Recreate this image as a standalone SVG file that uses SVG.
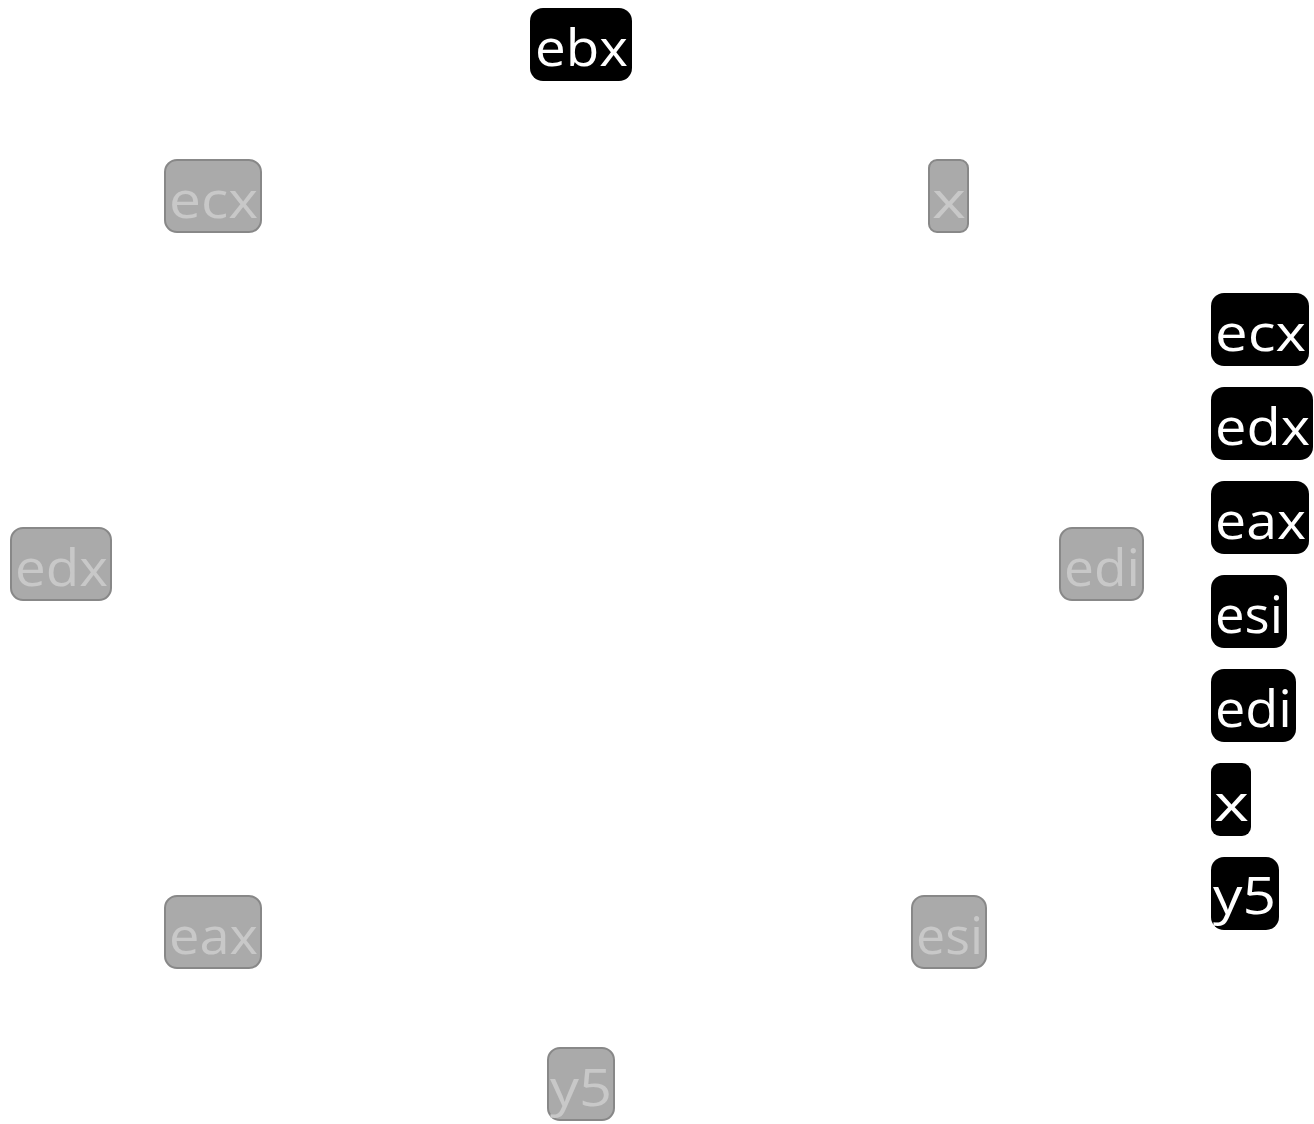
<svg xmlns="http://www.w3.org/2000/svg" width="1314" height="1124" viewBox="0 0 1314 1124">
<style>
.g rect{fill:#aaaaaa;stroke:#888888;stroke-width:2}
.g text{fill:#c8c8c8}
.b rect{fill:#000}
.b text{fill:#fff}
text{font-family:"Open Sans",Lato,sans-serif;font-size:52px}
</style>
<rect width="1314" height="1124" fill="#fff"/>
<g id="connectors"/>
<g id="n-ebx" class="b"><rect x="530" y="8" width="102" height="73" rx="13"/><text x="535" y="66" textLength="93" lengthAdjust="spacingAndGlyphs">ebx</text></g>
<g id="n-ecx" class="g"><rect x="165" y="160" width="96" height="72" rx="12"/><text x="169" y="218" textLength="89" lengthAdjust="spacingAndGlyphs">ecx</text></g>
<g id="n-x" class="g"><rect x="929" y="160" width="39" height="72" rx="8"/><text x="932" y="218" textLength="34" lengthAdjust="spacingAndGlyphs">x</text></g>
<g id="n-edx" class="g"><rect x="11" y="528" width="100" height="72" rx="12"/><text x="15" y="586" textLength="93" lengthAdjust="spacingAndGlyphs">edx</text></g>
<g id="n-edi" class="g"><rect x="1060" y="528" width="83" height="72" rx="12"/><text x="1064" y="586" textLength="76" lengthAdjust="spacingAndGlyphs">edi</text></g>
<g id="n-eax" class="g"><rect x="165" y="896" width="96" height="72" rx="12"/><text x="169" y="954" textLength="89" lengthAdjust="spacingAndGlyphs">eax</text></g>
<g id="n-esi" class="g"><rect x="912" y="896" width="74" height="72" rx="12"/><text x="916" y="954" textLength="67" lengthAdjust="spacingAndGlyphs">esi</text></g>
<g id="n-y5" class="g"><rect x="548" y="1048" width="66" height="72" rx="12"/><text x="550" y="1106" textLength="62" lengthAdjust="spacingAndGlyphs">y5</text></g>
<g id="legend-ecx" class="b"><rect x="1211" y="293" width="98" height="73" rx="13"/><text x="1215" y="351" textLength="91" lengthAdjust="spacingAndGlyphs">ecx</text></g>
<g id="legend-edx" class="b"><rect x="1211" y="387" width="102" height="73" rx="13"/><text x="1215" y="445" textLength="95" lengthAdjust="spacingAndGlyphs">edx</text></g>
<g id="legend-eax" class="b"><rect x="1211" y="481" width="98" height="73" rx="13"/><text x="1215" y="539" textLength="91" lengthAdjust="spacingAndGlyphs">eax</text></g>
<g id="legend-esi" class="b"><rect x="1211" y="575" width="76" height="73" rx="13"/><text x="1215" y="633" textLength="68" lengthAdjust="spacingAndGlyphs">esi</text></g>
<g id="legend-edi" class="b"><rect x="1211" y="669" width="85" height="73" rx="13"/><text x="1215" y="727" textLength="77" lengthAdjust="spacingAndGlyphs">edi</text></g>
<g id="legend-x" class="b"><rect x="1211" y="763" width="40" height="73" rx="9"/><text x="1214" y="821" textLength="35" lengthAdjust="spacingAndGlyphs">x</text></g>
<g id="legend-y5" class="b"><rect x="1211" y="857" width="68" height="73" rx="13"/><text x="1213" y="914" textLength="63" lengthAdjust="spacingAndGlyphs">y5</text></g>
</svg>
